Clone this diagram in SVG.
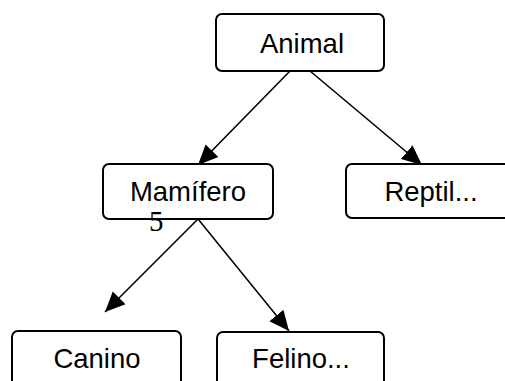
<svg xmlns="http://www.w3.org/2000/svg" width="505" height="381" viewBox="0 0 505 381">
<style>
.box{fill:#fff;stroke:#000;stroke-width:2}
.lbl{font-family:"Liberation Sans",Arial,sans-serif;font-size:27.5px;fill:#000;text-anchor:middle}
.edge{stroke:#000;stroke-width:1.6;fill:none;marker-end:url(#ah)}
</style>
<defs>
<marker id="ah" viewBox="-20 -10 21 20" refX="0" refY="0" markerWidth="21" markerHeight="20" markerUnits="userSpaceOnUse" orient="auto">
<path d="M0,0 L-20,-9 L-20,9 Z" fill="#000"/>
</marker>
</defs>
<rect width="505" height="381" fill="#fff"/>
<g id="connectors">
<line class="edge" x1="290" y1="71" x2="198" y2="165"/>
<line class="edge" x1="310" y1="71" x2="422" y2="165"/>
<line class="edge" x1="198" y1="219" x2="105" y2="312"/>
<line class="edge" x1="198" y1="219" x2="289" y2="331"/>
</g>
<g id="animal">
<rect class="box" x="216" y="14" width="168" height="57" rx="6"/>
<text class="lbl" x="302" y="53">Animal</text>
</g>
<g id="mamifero">
<rect class="box" x="103" y="164" width="170" height="55" rx="6"/>
<text class="lbl" x="188" y="201">Mamífero</text>
</g>
<g id="reptil">
<rect class="box" x="346" y="164" width="170" height="54" rx="6"/>
<text class="lbl" x="431" y="201">Reptil...</text>
</g>
<g id="canino">
<rect class="box" x="12" y="331" width="169" height="60" rx="6"/>
<text class="lbl" x="97" y="368">Canino</text>
</g>
<g id="felino">
<rect class="box" x="217" y="332" width="167" height="60" rx="6"/>
<text class="lbl" x="301" y="368">Felino...</text>
</g>
<text x="149" y="231" font-family="'Liberation Serif','Times New Roman',serif" font-size="29" fill="#000">5</text>
</svg>
